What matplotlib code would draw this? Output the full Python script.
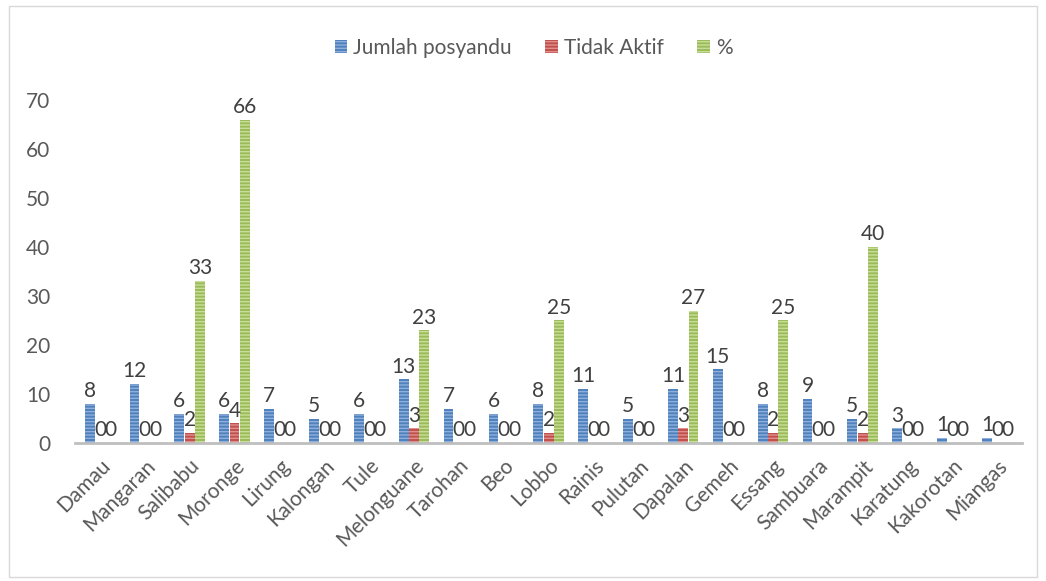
#!/usr/bin/env python3

import numpy as np
import matplotlib.pyplot as plt
from matplotlib.patches import Rectangle

# data
desa = ["Damau", "Mangaran", "Salibabu", "Moronge", "Lirung", "Kalongan", "Tule",
        "Melonguane", "Tarohan", "Beo", "Lobbo", "Rainis", "Pulutan", "Dapalan",
        "Gemeh", "Essang", "Sambuara", "Marampit", "Karatung", "Kakorotan", "Miangas"]
jumlah_posyandu = [8, 12, 6, 6, 7, 5, 6, 13, 7, 6, 8, 11, 5, 11, 15, 8, 9, 5, 3, 1, 1]
tidak_aktif = [0, 0, 2, 4, 0, 0, 0, 3, 0, 0, 2, 0, 0, 3, 0, 2, 0, 2, 0, 0, 0]
persen = [0, 0, 33, 66, 0, 0, 0, 23, 0, 0, 25, 0, 0, 27, 0, 25, 0, 40, 0, 0, 0]
y_ticks = [0, 10, 20, 30, 40, 50, 60, 70]


def main():
    plt.rcParams['font.family'] = ['Lato', 'DejaVu Sans']
    plt.rcParams['hatch.linewidth'] = 1.0
    text_col = '#595959'

    fig = plt.figure(figsize=(10.46, 5.81), dpi=100)
    ax = fig.add_axes([0.072, 0.2375, 0.905, 0.5905])

    # chart border
    fig.patches.append(Rectangle((0.009, 0.007), 0.982, 0.983, transform=fig.transFigure,
                                 fill=False, edgecolor='#d9d9d9', linewidth=1))

    x = np.arange(len(desa))
    w = 0.23
    series = [
        (jumlah_posyandu, 'Jumlah posyandu', '#4f81bd', '#8fb0dc'),
        (tidak_aktif, 'Tidak Aktif', '#c0504d', '#e08f8c'),
        (persen, '%', '#9bbb59', '#c8de98'),
    ]
    for i, (vals, name, col, hcol) in enumerate(series):
        pos = x + (i - 1) * w
        ax.bar(pos, vals, width=w * 0.95, color=col, edgecolor=hcol, linewidth=0,
               hatch='-----', label=name)
        for p, v in zip(pos, vals):
            ax.annotate(str(v), (p, v), xytext=(0, 2), textcoords='offset points',
                        ha='center', va='bottom', fontsize=15, color='#404040',
                        annotation_clip=False)

    ax.set_ylim(0, 70)
    ax.set_xlim(-0.55, len(desa) - 0.45)
    ax.set_yticks(y_ticks)
    ax.set_xticks(x)
    ax.set_xticklabels(desa, rotation=45, ha='right', rotation_mode='anchor')
    ax.tick_params(axis='both', length=0, labelsize=15, labelcolor=text_col)
    ax.tick_params(axis='x', pad=9)
    ax.tick_params(axis='y', pad=18)

    for s in ['top', 'right', 'left']:
        ax.spines[s].set_visible(False)
    ax.spines['bottom'].set_color('#bfbfbf')
    ax.spines['bottom'].set_linewidth(2)

    leg = fig.legend(loc='center', bbox_to_anchor=(0.51, 0.918), ncol=3, frameon=False,
                     fontsize=15, handlelength=0.6, handleheight=0.6, handletextpad=0.3,
                     columnspacing=1.6)
    for t in leg.get_texts():
        t.set_color(text_col)

    fig.savefig('out.png', dpi=100)


if __name__ == "__main__":
    main()
